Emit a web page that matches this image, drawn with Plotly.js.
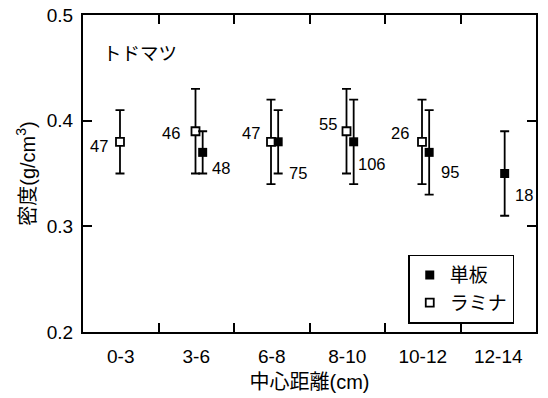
<!DOCTYPE html>
<html>
<head>
<meta charset="utf-8">
<script src="https://cdn.plot.ly/plotly-3.0.1.min.js"></script>
<style>html,body{margin:0;padding:0;background:#fff;}#chart{width:548px;height:398px;}</style>
</head>
<body>
<div id="chart"></div>
<script>
// ---- data ----
const categories = ['0-3', '3-6', '6-8', '8-10', '10-12', '12-14'];
const laminaMean = [0.38, 0.39, 0.38, 0.39, 0.38, null];
const laminaSD   = [0.03, 0.04, 0.04, 0.04, 0.04, null];
const laminaN    = [47, 46, 47, 55, 26, null];
const veneerMean = [null, 0.37, 0.38, 0.38, 0.37, 0.35];
const veneerSD   = [null, 0.02, 0.03, 0.04, 0.04, 0.04];
const veneerN    = [null, 48, 75, 106, 95, 18];
const yTicks = [0.2, 0.3, 0.4, 0.5];

// ---- placement (layout only) ----
const lamOffset = -0.01, venOffset = 0.085;
const lamLabelDx = [-10, -14, -9, -8, -11, 0];
const lamLabelDy = [-4, -2, 9, 7, 9, 0];      // px, positive = up
const venLabelDx = [0, 7, 9, 2, 10, 8];
const venLabelDy = [0, -16, -31, -22, -20, -21];

const FONT = 'Liberation Sans, Arial, Noto Sans CJK JP, sans-serif';

const idx = categories.map((c, i) => i);
const bounds = idx.slice(1).map(i => i - 0.5);
const lamX = idx.map(i => i + lamOffset);
const venX = idx.map(i => i + venOffset);

const lamina = {
  type: 'scatter', mode: 'markers', name: 'ラミナ', legendrank: 2,
  x: lamX, y: laminaMean,
  error_y: {type: 'data', array: laminaSD, visible: true, color: '#000', thickness: 1.8, width: 4.5},
  marker: {symbol: 'square', size: 8, color: '#fff', line: {color: '#000', width: 1.8}},
  cliponaxis: false
};
const veneer = {
  type: 'scatter', mode: 'markers', name: '単板', legendrank: 1,
  x: venX, y: veneerMean,
  error_y: {type: 'data', array: veneerSD, visible: true, color: '#000', thickness: 1.8, width: 4.5},
  marker: {symbol: 'square', size: 9, color: '#000', line: {color: '#000', width: 0}},
  cliponaxis: false
};
// invisible helper trace so the label axis is drawn
const labelAxisTrace = {
  type: 'scatter', mode: 'markers', x: idx, y: idx.map(() => null),
  xaxis: 'x2', yaxis: 'y', showlegend: false, hoverinfo: 'skip'
};

const annotations = [];
idx.forEach(i => {
  if (laminaN[i] != null) annotations.push({
    x: lamX[i], y: laminaMean[i], xref: 'x', yref: 'y', text: String(laminaN[i]),
    showarrow: false, xanchor: 'right', yanchor: 'middle',
    xshift: lamLabelDx[i], yshift: lamLabelDy[i], font: {family: FONT, size: 16.5, color: '#000'}
  });
  if (veneerN[i] != null) annotations.push({
    x: venX[i], y: veneerMean[i], xref: 'x', yref: 'y', text: String(veneerN[i]),
    showarrow: false, xanchor: 'left', yanchor: 'middle',
    xshift: venLabelDx[i], yshift: venLabelDy[i], font: {family: FONT, size: 16.5, color: '#000'}
  });
});
annotations.push({
  xref: 'paper', yref: 'paper', x: 0.04, y: 0.877, xanchor: 'left', yanchor: 'middle',
  text: 'トドマツ', showarrow: false, font: {family: FONT, size: 18.5, color: '#000'}
});

const layout = {
  width: 548, height: 398,
  margin: {l: 83, r: 12, t: 15, b: 65.5},
  paper_bgcolor: '#fff', plot_bgcolor: '#fff',
  font: {family: FONT, size: 19, color: '#000'},
  showlegend: true,
  legend: {
    x: 0.718, y: 0.244, xanchor: 'left', yanchor: 'top',
    bordercolor: '#000', borderwidth: 1.5, bgcolor: '#fff',
    font: {family: FONT, size: 19, color: '#000'}
  },
  xaxis: {
    range: [-0.5, 5.5], tickmode: 'array', tickvals: bounds, ticktext: bounds.map(() => ''),
    ticks: 'inside', ticklen: 9, tickwidth: 2, tickcolor: '#000',
    showticklabels: false, showgrid: false, zeroline: false,
    showline: true, linecolor: '#000', linewidth: 2, mirror: 'ticks'
  },
  xaxis2: {
    overlaying: 'x', side: 'bottom', matches: 'x', range: [-0.5, 5.5],
    tickmode: 'array', tickvals: idx, ticktext: categories,
    ticks: '', showline: false, showgrid: false, zeroline: false,
    ticklabelstandoff: 11,
    tickfont: {family: FONT, size: 19, color: '#000'},
    title: {text: '中心距離(cm)', font: {family: FONT, size: 20}, standoff: 8}
  },
  yaxis: {
    range: [0.2, 0.5], tickmode: 'array', tickvals: yTicks, ticktext: yTicks.map(v => v.toFixed(1)),
    ticks: 'inside', ticklen: 9, tickwidth: 2, tickcolor: '#000',
    showgrid: false, zeroline: false,
    showline: true, linecolor: '#000', linewidth: 2, mirror: 'ticks',
    ticklabelstandoff: 4,
    tickfont: {family: FONT, size: 19, color: '#000'},
    title: {text: '密度(g/cm<sup>3</sup>)', font: {family: FONT, size: 20}, standoff: 6}
  },
  annotations: annotations
};

Plotly.newPlot('chart', [lamina, veneer, labelAxisTrace], layout, {displayModeBar: false, staticPlot: true});
</script>
</body>
</html>
